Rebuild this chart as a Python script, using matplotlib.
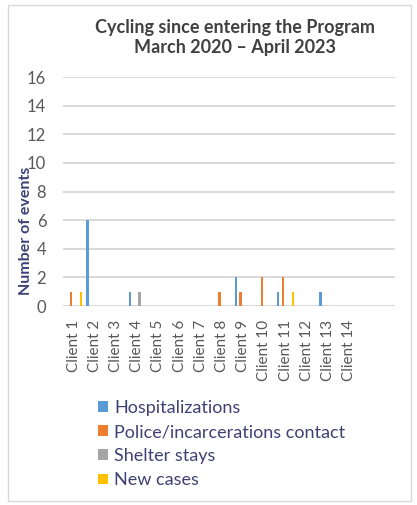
import matplotlib
matplotlib.use("Agg")
import matplotlib.pyplot as plt
from matplotlib.patches import Rectangle, Patch
import numpy as np

plt.rcParams['font.family'] = ['Lato', 'DejaVu Sans']

clients = [f"Client {i}" for i in range(1, 15)]
hospitalizations = [0, 6, 0, 1, 0, 0, 0, 0, 2, 0, 1, 0, 1, 0]
police_contact   = [1, 0, 0, 0, 0, 0, 0, 1, 1, 2, 2, 0, 0, 0]
shelter_stays    = [0, 0, 0, 1, 0, 0, 0, 0, 0, 0, 0, 0, 0, 0]
new_cases        = [1, 0, 0, 0, 0, 0, 0, 0, 0, 0, 1, 0, 0, 0]
series_names = ["Hospitalizations", "Police/incarcerations contact",
                "Shelter stays", "New cases"]
series_colors = ["#5B9BD5", "#ED7D31", "#A5A5A5", "#FFC000"]
y_ticks = list(range(0, 17, 2))

fig = plt.figure(figsize=(4.17, 5.05), dpi=100)
fig.patches.append(Rectangle((0.018, 0.008), 0.968, 0.982, transform=fig.transFigure,
                             fill=False, edgecolor="#D9D9D9", linewidth=1.0))

ax = fig.add_axes([0.151, 0.394, 0.796, 0.4535])
x = np.arange(len(clients))
step = 0.23
width = 0.12
all_series = [hospitalizations, police_contact, shelter_stays, new_cases]
for k, (vals, col) in enumerate(zip(all_series, series_colors)):
    ax.bar(x + (k - 1.5) * step, vals, width=width, color=col, zorder=3)

ax.set_ylim(0, 16)
ax.set_xlim(-0.5, 15.16)
ax.set_yticks(y_ticks)
ax.set_yticklabels([str(t) for t in y_ticks], fontsize=12, color="#595959")
ax.set_xticks(x)
ax.set_xticklabels(clients, rotation=90, fontsize=11, color="#595959",
                   ha="center", va="top")
ax.tick_params(axis="both", length=0)
ax.tick_params(axis="x", pad=10)
ax.tick_params(axis="y", pad=12)
ax.grid(axis="y", color="#D9D9D9", linewidth=1.4, zorder=0)
for s in ax.spines.values():
    s.set_visible(False)

fig.text(0.062, 0.543, "Number of events", rotation=90, fontsize=11.5,
         fontweight="bold", color="#3F4175", ha="center", va="center")

fig.text(0.563, 0.946, "Cycling since entering the Program", fontsize=13,
         fontweight="bold", color="#404040", ha="center", va="center")
fig.text(0.563, 0.905, "March 2020 \u2013 April 2023", fontsize=13,
         fontweight="bold", color="#404040", ha="center", va="center")

handles = [Patch(facecolor=c, edgecolor="none") for c in series_colors]
leg = fig.legend(handles, series_names, loc="upper left",
                 bbox_to_anchor=(0.235, 0.208), frameon=False, fontsize=13,
                 handlelength=0.55, handleheight=0.55, handletextpad=0.35,
                 labelspacing=0.45, borderpad=0, borderaxespad=0)
for t in leg.get_texts():
    t.set_color("#3F4175")

fig.savefig("out.png", dpi=100, facecolor="white")
